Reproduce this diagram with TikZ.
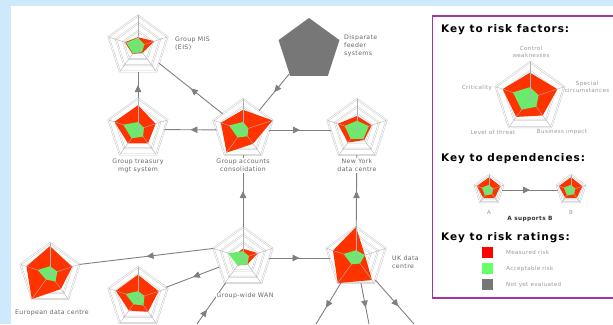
\documentclass[tikz,border=0pt]{standalone}
\usepackage{fontspec}
\usepackage{tikz}
\usetikzlibrary{shapes.geometric,arrows.meta,decorations.markings,positioning}

\newfontfamily\lblfont{DejaVu Sans}[LetterSpace=6]
\newfontfamily\keyfont{DejaVu Sans}[LetterSpace=9]

\definecolor{bgblue}{HTML}{CDE9FB}
\definecolor{riskred}{HTML}{FF3300}
\definecolor{riskgreen}{HTML}{66EE66}
\definecolor{swred}{HTML}{FF0000}
\definecolor{swgreen}{HTML}{66FF66}
\definecolor{ringgray}{HTML}{C8C8C8}
\definecolor{linkgray}{HTML}{808080}
\definecolor{pentgray}{HTML}{777777}
\definecolor{textgray}{HTML}{666666}
\definecolor{keygray}{HTML}{9A9A9A}
\definecolor{keypurple}{HTML}{A335A3}

% 雷达图：#1 半径，#2 节点名，#3 实测风险，#4 可接受风险
\newcommand{\riskweb}[4][31]{%
  \begin{scope}[shift={(#2.center)}]
    \foreach \s in {0.75,0.5,0.25}
      \draw[ring] (90:\s*#1) -- (18:\s*#1) -- (-54:\s*#1) -- (-126:\s*#1) -- (162:\s*#1) -- cycle;
    \foreach \v [count=\i] in {#3}
      \coordinate (#2-m\i) at (162-72*\i:\v*#1);
    \fill[measured] (#2-m1) -- (#2-m2) -- (#2-m3) -- (#2-m4) -- (#2-m5) -- cycle;
    \foreach \v [count=\i] in {#4}
      \coordinate (#2-g\i) at (162-72*\i:\v*#1);
    \fill[acceptable] (#2-g1) -- (#2-g2) -- (#2-g3) -- (#2-g4) -- (#2-g5) -- cycle;
    \foreach \a in {90,18,-54,-126,162}
      \draw[spoke] (0,0) -- (\a:#1);
  \end{scope}}

\begin{document}
\begin{tikzpicture}[x=1pt,y=1pt,
  web/.style={regular polygon, regular polygon sides=5, minimum size=#1,
    inner sep=0pt, outer sep=0pt, draw=ringgray, line width=0.5pt,
    double=white, double distance=0.8pt},
  web/.default=62pt,
  feeder/.style={regular polygon, regular polygon sides=5, minimum size=64pt,
    inner sep=0pt, outer sep=0pt, fill=pentgray},
  ring/.style={draw=ringgray, line width=0.5pt, double=white, double distance=0.8pt},
  spoke/.style={draw=ringgray!70!gray, line width=0.4pt},
  measured/.style={fill=riskred},
  acceptable/.style={fill=riskgreen},
  dep/.style={draw=linkgray, line width=0.9pt, postaction={decorate},
    decoration={markings, mark=at position #1 with {\arrow{Triangle[length=7pt,width=6.5pt]}}}},
  dep/.default=0.5,
  lbl/.style={font=\lblfont\fontsize{6.2}{8}\selectfont, text=textgray,
    align=center, inner sep=1pt, fill=white},
  keylbl/.style={font=\lblfont\fontsize{5.6}{7.5}\selectfont, text=keygray,
    align=center, inner sep=0pt},
  keyhead/.style={font=\keyfont\bfseries\fontsize{10.5}{12}\selectfont,
    anchor=west, inner sep=0pt},
  swatch/.style={minimum size=11pt, inner sep=0pt}]

\useasboundingbox (0,0) rectangle (613,324);
% 背景
\fill[bgblue] (0,0) rectangle (613,324);
\fill[white] (11,0) rectangle (613,318);

% 各系统节点
\node[web] (mis) at (138,277.5) {};
\node[feeder] (feeder) at (309,274) {};
\node[web] (treasury) at (138,194.5) {};
\node[web] (accounts) at (243,194) {};
\node[web] (newyork) at (357,194) {};
\node[web] (wan) at (243,66) {};
\node[web] (uk) at (356,66) {};
\node[web] (europe) at (50,50) {};
\node[web] (branch) at (138,26) {};

% 图外的节点
\coordinate (wanfeed) at (197,0);
\coordinate (ukout1) at (316,0);
\coordinate (ukout2) at (369,0);
\coordinate (ukout3) at (414,0);

% 依赖关系
\draw[dep] (accounts) -- (mis);
\draw[dep] (feeder) -- (accounts);
\draw[dep] (accounts) -- (treasury);
\draw[dep] (treasury) -- (mis);
\draw[dep] (accounts) -- (newyork);
\draw[dep] (wan) -- (accounts);
\draw[dep] (uk) -- (newyork);
\draw[dep] (wan) -- (uk);
\draw[dep] (wan.corner 2) -- (europe.corner 5);
\draw[dep] (wan) -- (branch);
\draw[dep=0.35] (wanfeed) -- (wan);
\draw[dep=0.6] (uk) -- (ukout1);
\draw[dep=0.6] (uk) -- (ukout2);
\draw[dep=0.6] (uk) -- (ukout3);

% 风险值
\riskweb{mis}{0.3,0.55,0.25,0.3,0.45}{0.28,0.22,0.22,0.28,0.4}
\riskweb{treasury}{0.78,0.6,0.55,0.55,0.8}{0.24,0.2,0.28,0.35,0.5}
\riskweb{accounts}{0.65,1,0.55,0.9,0.75}{0.26,0.18,0.25,0.3,0.47}
\riskweb{newyork}{0.45,0.5,0.4,0.5,0.65}{0.3,0.4,0.35,0.35,0.42}
\riskweb{wan}{0.3,0.5,0.25,0.3,0.3}{0.22,0.2,0.25,0.3,0.5}
\riskweb{uk}{1,0.3,0.88,1,0.78}{0.25,0.3,0.22,0.25,0.42}
\riskweb{europe}{0.9,0.75,0.6,1,0.8}{0.25,0.25,0.3,0.22,0.42}
\riskweb{branch}{0.75,0.7,0.55,0.5,0.75}{0.22,0.22,0.3,0.25,0.42}

% 节点标注
\node[lbl, align=left, anchor=west] (mislbl) at (174,280) {Group MIS\\(EIS)};
\node[lbl, align=left, anchor=west] (feederlbl) at (343,278) {Disparate\\feeder\\systems};
\node[lbl, below=3pt of treasury] (treasurylbl) {Group treasury\\mgt system};
\node[lbl, below=3pt of accounts] (accountslbl) {Group accounts\\consolidation};
\node[lbl, below=3pt of newyork] (newyorklbl) {New York\\data centre};
\node[lbl, align=left, anchor=west] (uklbl) at (391,62) {UK data\\centre};
\node[lbl] (wanlbl) at (245,28) {Group-wide WAN};
\node[lbl] (europelbl) at (52,11) {European data centre};

% 图例
\draw[keypurple, line width=1.2pt] (613,308) -- (432.5,308) -- (432.5,26) -- (613,26);
\node[keyhead] (head1) at (441,294) {Key to risk factors:};
\node[keyhead] (head2) at (441,165) {Key to dependencies:};
\node[keyhead] (head3) at (441,86) {Key to risk ratings:};

\node[web=72pt] (keyweb) at (530,226) {};
\riskweb[36]{keyweb}{0.7,0.8,0.6,0.65,0.8}{0.3,0.25,0.3,0.4,0.5}
\node[keylbl] (kcontrol) at (531,272) {Control\\weaknesses};
\node[keylbl] (kspecial) at (587,237) {Special\\circumstances};
\node[keylbl] (kcrit) at (477,236) {Criticality};
\node[keylbl] (kthreat) at (493,192) {Level of threat};
\node[keylbl] (kimpact) at (562,192) {Business impact};

\node[web=30pt] (keya) at (489,134) {};
\node[web=30pt] (keyb) at (571,134) {};
\draw[dep] (keya) -- (keyb);
\riskweb[15]{keya}{0.85,0.8,0.65,0.65,0.85}{0.35,0.3,0.35,0.45,0.5}
\riskweb[15]{keyb}{0.85,0.8,0.65,0.65,0.85}{0.35,0.3,0.35,0.45,0.5}
\node[keylbl] (kalbl) at (489,112) {A};
\node[keylbl] (kblbl) at (571,112) {B};
\node[keylbl, font=\lblfont\bfseries\fontsize{5.8}{7}\selectfont, text=black!80] (ksupport) at (530,105) {A supports B};

\node[swatch, fill=swred] (swmeas) at (487.5,71.5) {};
\node[swatch, fill=swgreen] (swacc) at (487.5,55.5) {};
\node[swatch, fill=pentgray] (swnone) at (487.5,39.5) {};
\node[keylbl, anchor=west] at (506,71.5) {Measured risk};
\node[keylbl, anchor=west] at (506,55.5) {Acceptable risk};
\node[keylbl, anchor=west] at (506,39.5) {Not yet evaluated};
\end{tikzpicture}
\end{document}
